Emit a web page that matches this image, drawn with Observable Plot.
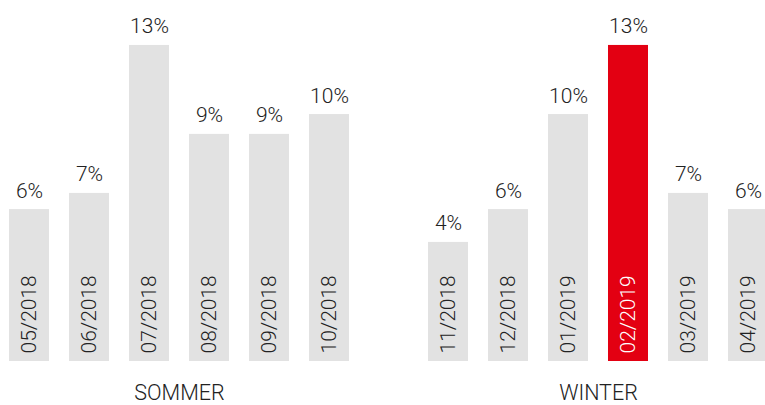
<!DOCTYPE html>
<html>
<head>
<meta charset="utf-8">
<script src="https://cdn.jsdelivr.net/npm/d3@7"></script>
<script src="https://cdn.jsdelivr.net/npm/@observablehq/plot@0.6"></script>
<style>
  html, body { margin: 0; padding: 0; background: #fff; }
  #chart svg { display: block; }
</style>
</head>
<body>
<div id="chart"></div>
<script>
const seasons = ["SOMMER", "WINTER"];
const months = [
  ["05/2018", "06/2018", "07/2018", "08/2018", "09/2018", "10/2018"],
  ["11/2018", "12/2018", "01/2019", "02/2019", "03/2019", "04/2019"]
];
// bar heights (in %)
const values = [
  [6.2, 6.86, 12.9, 9.27, 9.27, 10.08],
  [4.86, 6.2, 10.08, 12.9, 6.86, 6.2]
];
// value labels as printed
const labels = [
  ["6%", "7%", "13%", "9%", "9%", "10%"],
  ["4%", "6%", "10%", "13%", "7%", "6%"]
];
const highlight = "02/2019";

const data = seasons.flatMap((s, i) =>
  months[i].map((m, j) => ({
    season: s, pos: j, month: m, value: values[i][j], label: labels[i][j],
    hi: m === highlight
  }))
);

const font = "Roboto, 'Liberation Sans', sans-serif";

const chart = Plot.plot({
  width: 765,
  height: 405,
  marginLeft: 9,
  marginRight: -3,
  marginTop: 18,
  marginBottom: 44,
  style: { fontFamily: font, background: "#fff" },
  fx: { domain: seasons, paddingInner: 0.1885, paddingOuter: 0, round: false, label: null, axis: null },
  x: { domain: d3.range(6), paddingInner: 1 / 3, paddingOuter: 0, round: false, axis: null },
  y: { domain: [0, 14], axis: null },
  marks: [
    Plot.barY(data, {
      fx: "season", x: "pos", y: "value",
      fill: d => d.hi ? "#e30012" : "#e2e2e2"
    }),
    Plot.text(data, {
      fx: "season", x: "pos", y: "value", text: "label",
      lineAnchor: "bottom", dy: -12,
      fontSize: 21, fontWeight: 300, fill: "#222"
    }),
    Plot.text(data, {
      fx: "season", x: "pos", y: 0, text: "month",
      rotate: -90, textAnchor: "start", lineAnchor: "middle",
      dy: -8, fontSize: 21, fontWeight: 300,
      fill: d => d.hi ? "#fff" : "#222"
    }),
    Plot.text(seasons, {
      fx: d => d, frameAnchor: "bottom", text: d => d,
      lineAnchor: "bottom", dy: 38,
      fontSize: 21.5, fontWeight: 300, fill: "#222"
    })
  ]
});
document.getElementById("chart").append(chart);
</script>
</body>
</html>
